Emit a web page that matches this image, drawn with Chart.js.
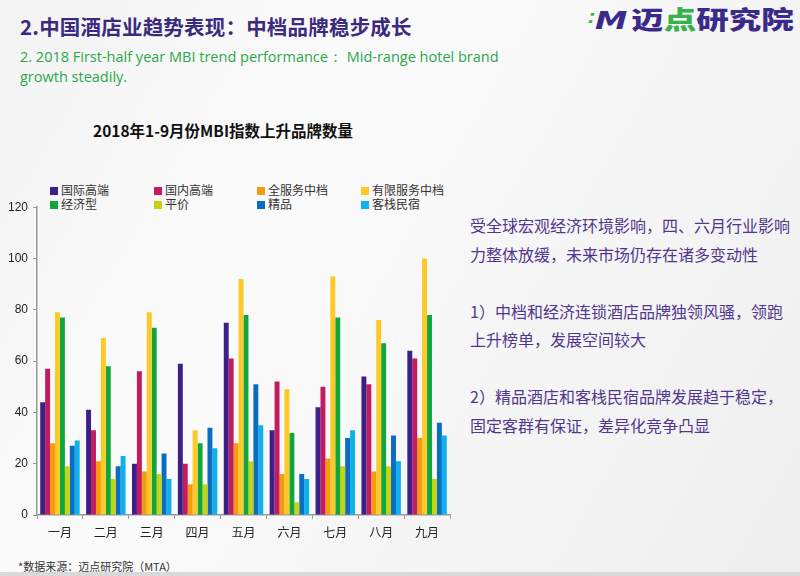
<!DOCTYPE html>
<html><head><meta charset="utf-8">
<script src="https://cdn.jsdelivr.net/npm/chart.js@4/dist/chart.umd.min.js"></script>
<style>
html,body{margin:0;padding:0;}
body{width:800px;height:576px;position:relative;overflow:hidden;
 background:linear-gradient(120deg,#f3f3f3 0%,#fbfbfb 35%,#f6f6f6 60%,#efefef 100%);
 font-family:"Noto Sans CJK SC","Noto Sans",sans-serif;}
.abs{position:absolute;white-space:nowrap;}
#title{left:20px;top:11px;font-size:20.5px;font-weight:bold;color:#3b2a7e;letter-spacing:0.2px;}
#sub{left:20px;top:47px;font-size:14.5px;line-height:20px;color:#2aa84a;font-family:"Open Sans","Noto Sans",sans-serif;white-space:normal;width:480px;}
#logo{left:588px;top:6px;font-size:25px;line-height:25px;font-weight:900;color:#3b2a8a;transform:scaleX(1.3);transform-origin:0 0;letter-spacing:0px;}
#logo .m{font-family:"DejaVu Sans";font-style:italic;font-weight:bold;letter-spacing:0;margin-right:3px;}
#logo .g{color:#35b34a;font-size:14px;vertical-align:6px;}
#logo .gd{color:#35b34a;}
#ctitle{left:93px;top:119px;font-size:15.5px;font-weight:bold;color:#111;}
#legend .it{position:absolute;font-size:12px;color:#333;line-height:14px;white-space:nowrap;}
#legend .sw{display:inline-block;width:8px;height:8px;margin-right:3px;vertical-align:0px;}
#chartbox{position:absolute;left:0;top:195px;width:460px;height:350px;}
#right{left:470px;top:211px;font-size:16px;line-height:28.5px;color:#50368f;}
#foot{left:18px;top:558px;font-size:11px;color:#333;}
#bline{position:absolute;left:0;top:572px;width:800px;height:4px;background:#d9d9d9;}
</style></head>
<body>
<div id="title" class="abs">2.中国酒店业趋势表现：中档品牌稳步成长</div>
<div id="sub" class="abs">2. 2018 First-half year MBI trend performance： Mid-range hotel brand growth steadily.</div>
<div id="logo" class="abs"><span class="m"><span class="g">⁚</span>M</span>迈<span class="gd">点</span>研究院</div>
<div id="ctitle" class="abs">2018年1-9月份MBI指数上升品牌数量</div>
<div id="legend"></div>
<div id="chartbox"><canvas id="c"></canvas></div>
<div id="right" class="abs">受全球宏观经济环境影响，四、六月行业影响<br>力整体放缓，未来市场仍存在诸多变动性<br><br>1）中档和经济连锁酒店品牌独领风骚，领跑<br>上升榜单，发展空间较大<br><br>2）精品酒店和客栈民宿品牌发展趋于稳定，<br>固定客群有保证，差异化竞争凸显</div>
<div id="foot" class="abs">*数据来源：迈点研究院（MTA）</div>
<div id="bline"></div>
<script>
const months = ["一月","二月","三月","四月","五月","六月","七月","八月","九月"];
const seriesNames = ["国际高端","国内高端","全服务中档","有限服务中档","经济型","平价","精品","客栈民宿"];
const intlHighEnd     = [44, 41, 20, 59, 75, 33, 42, 54, 64];
const domesticHighEnd = [57, 33, 56, 20, 61, 52, 50, 51, 61];
const fullServiceMid  = [28, 21, 17, 12, 28, 16, 22, 17, 30];
const limitedServiceMid = [79, 69, 79, 33, 92, 49, 93, 76, 100];
const economy         = [77, 58, 73, 28, 78, 32, 77, 67, 78];
const budget          = [19, 14, 16, 12, 21, 5, 19, 19, 14];
const boutique        = [27, 19, 24, 34, 51, 16, 30, 31, 36];
const innHomestay     = [29, 23, 14, 26, 35, 14, 33, 21, 31];
const yTicks = [0, 20, 40, 60, 80, 100, 120];

const seriesValues = [intlHighEnd, domesticHighEnd, fullServiceMid, limitedServiceMid, economy, budget, boutique, innHomestay];
const colors = ["#3d1f88","#c41a60","#f39c0f","#fdc927","#0ea63d","#c5d40f","#0b6dc0","#0db1ef"];

// HTML legend (4 columns x 2 rows)
const legendCols = [50,154,257,361], legendRows = [183,197];
const lg = document.getElementById('legend');
seriesNames.forEach((n,i)=>{
  const d = document.createElement('div');
  d.className='it';
  d.style.left = legendCols[i%4]+'px';
  d.style.top = legendRows[Math.floor(i/4)]+'px';
  d.innerHTML = '<span class="sw" style="background:'+colors[i]+'"></span>'+n;
  lg.appendChild(d);
});

new Chart(document.getElementById('c'), {
  type:'bar',
  data:{
    labels: months,
    datasets: seriesNames.map((n,i)=>({
      label:n, data:seriesValues[i], backgroundColor:colors[i],
      borderWidth:0,
      categoryPercentage:0.86, barPercentage:1.0
    }))
  },
  options:{
    responsive:true, maintainAspectRatio:false, animation:false,
    layout:{padding:{top:0,right:10,left:0,bottom:0}},
    plugins:{legend:{display:false}, title:{display:false}, tooltip:{enabled:false}},
    scales:{
      x:{
        grid:{display:true, drawOnChartArea:false, drawTicks:true, tickLength:4, color:'#999', offset:true},
        border:{display:true, color:'#999', width:1.5},
        ticks:{color:'#222', font:{size:12, family:'"Noto Sans CJK SC"'}, padding:6, maxRotation:0},
        afterFit:(s)=>{s.height=30;}
      },
      y:{
        min:0, max:120,
        afterBuildTicks:(s)=>{s.ticks = yTicks.map(v=>({value:v}));},
        grid:{display:true, drawOnChartArea:false, drawTicks:true, tickLength:4, color:'#999'},
        border:{display:true, color:'#999', width:1.5},
        ticks:{color:'#222', font:{size:12, family:'"Liberation Sans", Arial'}, padding:5},
        afterFit:(s)=>{s.width=37;}
      }
    }
  }
});
</script>
</body></html>
